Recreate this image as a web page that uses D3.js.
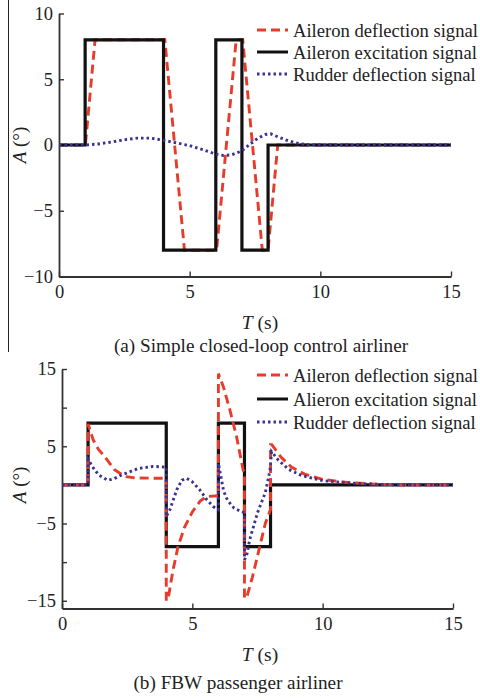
<!DOCTYPE html>
<html>
<head>
<meta charset="utf-8">
<script src="https://cdn.jsdelivr.net/npm/d3@7"></script>
<style>
  body { margin: 0; background: #fff; }
  text { font-family: "Liberation Serif", "Times New Roman", serif; fill: #222; }
</style>
</head>
<body>
<div id="chart"></div>
<script>
// ---- data: [time (s), angle (deg)] ----
var excitation = [[0,0],[1,0],[1,8],[4,8],[4,-8],[6,-8],[6,8],[7,8],[7,-8],[8,-8],[8,0],[15,0]];

// (a) simple closed-loop control
var aileronA = [[0,0],[1.01,0],[1.38,8],[4.05,8],[4.8,-8],[6.03,-8],[6.78,8],[7.03,8],[7.78,-8],[8.0,-8],[8.37,0],[15,0]];
var rudderA = [[0,0],[1,0],[1.5,0.08],[2,0.22],[2.5,0.4],[3,0.52],[3.5,0.52],[4,0.36],[4.5,0.16],[5,-0.05],[5.5,-0.35],[6,-0.7],[6.3,-0.8],[6.6,-0.75],[7,-0.45],[7.3,0.05],[7.6,0.5],[7.9,0.8],[8.1,0.85],[8.4,0.6],[8.8,0.3],[9.2,0.1],[9.6,0.02],[10,0],[15,0]];

// (b) FBW passenger airliner
var aileronB = [[0,0],[1,0],[1,7.9],[1.2,5.8],[1.4,4.6],[1.65,3.6],[2.0,2.0],[2.4,1.1],[2.8,0.9],[3.5,0.86],[4,0.86],[4,-15],[4.1,-14.2],[4.25,-11.2],[4.45,-8],[4.7,-5.5],[5,-3.5],[5.3,-2.1],[5.55,-1.5],[6,-1.4],
                [6,14.4],[6.19,12.7],[6.44,9.7],[6.7,6.2],[6.95,1.9],[7,1.7],[7,-14.7],[7.1,-14.4],[7.3,-12],[7.6,-7.8],[7.8,-5],[8,-3.2],
                [8,5.2],[8.05,5.2],[8.4,3.6],[8.8,2.3],[9.3,1.4],[10,0.7],[11,0.3],[12,0.1],[13,0],[15,0]];
var rudderB = [[0,0],[1,0],[1,3.3],[1.2,2.2],[1.4,1.3],[1.75,0.6],[2.0,0.8],[2.3,1.3],[2.9,2.1],[3.5,2.4],[4,2.3],
               [4,-4.1],[4.14,-3.2],[4.4,-0.65],[4.6,0.6],[4.78,0.86],[5.0,0.4],[5.3,-0.7],[5.55,-1.9],[5.8,-2.8],[6,-3.2],
               [6,2.8],[6.1,1.0],[6.2,-0.8],[6.35,-2.0],[6.6,-3.0],[6.9,-3.5],[7,-3.6],
               [7,-9.7],[7.1,-8.9],[7.2,-7.1],[7.5,-3.6],[7.8,-1.0],[7.98,1.9],[8.04,4.3],[8.3,3.2],[8.7,2.0],[9.2,1.2],[10,0.55],[11,0.25],[12,0.08],[13,0],[15,0]];

var xTicks = [0, 5, 10, 15];
var yTicksA = [-10, -5, 0, 5, 10];
var yTicksB = [-15, -10, -5, 0, 5, 10, 15];
var yLabelsB = [-15, -5, 5, 15];

var legendA = ["Aileron deflection signal", "Aileron excitation signal", "Rudder deflection signal"];
var legendB = ["Aileron deflection signal", "Alieron excitation signal", "Rudder deflection signal"];

var RED = "#e63c2c", BLUE = "#3a3192", BLACK = "#111";

var svg = d3.select("#chart").append("svg")
    .attr("width", 480)
    .attr("height", 699);

// stray frame line at the left of panel (a)
svg.append("line")
    .attr("x1", 8.5).attr("x2", 8.5).attr("y1", 0).attr("y2", 352)
    .attr("stroke", "#222").attr("stroke-width", 1);

var styles = {
  aileron: { color: RED, dash: "9,5" },
  excitation: { color: BLACK, dash: null },
  rudder: { color: BLUE, dash: "2.5,3" }
};

function panel(opt) {
  var x = d3.scaleLinear().domain([0, 15]).range(opt.xr);
  var y = d3.scaleLinear().domain(opt.yd).range(opt.yr);
  var g = svg.append("g");

  // axes, ticks pointing inwards
  var xAxis = g.append("g")
      .attr("transform", "translate(0," + opt.yr[0] + ")")
      .call(d3.axisBottom(x).tickValues(xTicks).tickSizeInner(-5).tickSizeOuter(0).tickPadding(8));
  var yAxis = g.append("g")
      .attr("transform", "translate(" + opt.xr[0] + ",0)")
      .call(d3.axisLeft(y).tickValues(opt.yTicks).tickSizeInner(-5).tickSizeOuter(0).tickPadding(6)
        .tickFormat(function(d) { return opt.yLabels.indexOf(d) >= 0 ? d3.format("")(d).replace("-", "\u2212") : ""; }));
  [xAxis, yAxis].forEach(function(a) {
    a.select(".domain").attr("stroke", "#333").attr("stroke-width", 1.8);
    a.selectAll(".tick line").attr("stroke", "#333").attr("stroke-width", 1.4);
    a.selectAll(".tick text").style("font-size", "18.5px").attr("fill", "#222");
  });

  var line = d3.line().x(function(d) { return x(d[0]); }).y(function(d) { return y(d[1]); });

  opt.order.forEach(function(key) {
    var s = styles[key];
    g.append("path")
        .datum(opt.series[key])
        .attr("d", line)
        .attr("fill", "none")
        .attr("stroke", s.color)
        .attr("stroke-width", key == "excitation" ? 3.2 : 2.9)
        .attr("stroke-dasharray", s.dash)
        .attr("stroke-linejoin", "miter");
  });

  // legend
  var keys = ["aileron", "excitation", "rudder"];
  var lg = g.append("g");
  keys.forEach(function(k, i) {
    var yy = opt.legendY[i];
    lg.append("line")
        .attr("x1", 257).attr("x2", 288).attr("y1", yy).attr("y2", yy)
        .attr("stroke", styles[k].color)
        .attr("stroke-width", 3)
        .attr("stroke-dasharray", styles[k].dash);
    lg.append("text")
        .attr("x", 293).attr("y", yy + 6.5)
        .style("font-size", "18.6px")
        .text(opt.legend[i]);
  });

  // axis titles
  var ya = g.append("text")
      .attr("transform", "translate(26," + y(0) + ") rotate(-90)")
      .attr("text-anchor", "middle")
      .style("font-size", "19px");
  ya.append("tspan").style("font-style", "italic").text("A");
  ya.append("tspan").text(" (\u00b0)");

  var xa = g.append("text")
      .attr("x", 260).attr("y", opt.xTitleY)
      .attr("text-anchor", "middle")
      .style("font-size", "19.5px");
  xa.append("tspan").style("font-style", "italic").text("T");
  xa.append("tspan").text(" (s)");

  g.append("text")
      .attr("x", opt.capX).attr("y", opt.capY)
      .attr("text-anchor", "middle")
      .style("font-size", "19.2px")
      .text(opt.caption);
}

panel({
  xr: [59, 451], yd: [-10, 10], yr: [276.5, 13.5],
  yTicks: yTicksA, yLabels: yTicksA,
  series: { aileron: aileronA, excitation: excitation, rudder: rudderA },
  order: ["aileron", "excitation", "rudder"],
  legend: legendA, legendY: [30, 52, 74],
  xTitleY: 329, capX: 261, capY: 352,
  caption: "(a) Simple closed-loop control airliner"
});

panel({
  xr: [62, 453], yd: [-16, 15], yr: [608.5, 369],
  yTicks: yTicksB, yLabels: yLabelsB,
  series: { aileron: aileronB, excitation: excitation, rudder: rudderB },
  order: ["excitation", "aileron", "rudder"],
  legend: legendB, legendY: [375, 399, 422],
  xTitleY: 661, capX: 238, capY: 689,
  caption: "(b) FBW passenger airliner"
});
</script>
</body>
</html>
